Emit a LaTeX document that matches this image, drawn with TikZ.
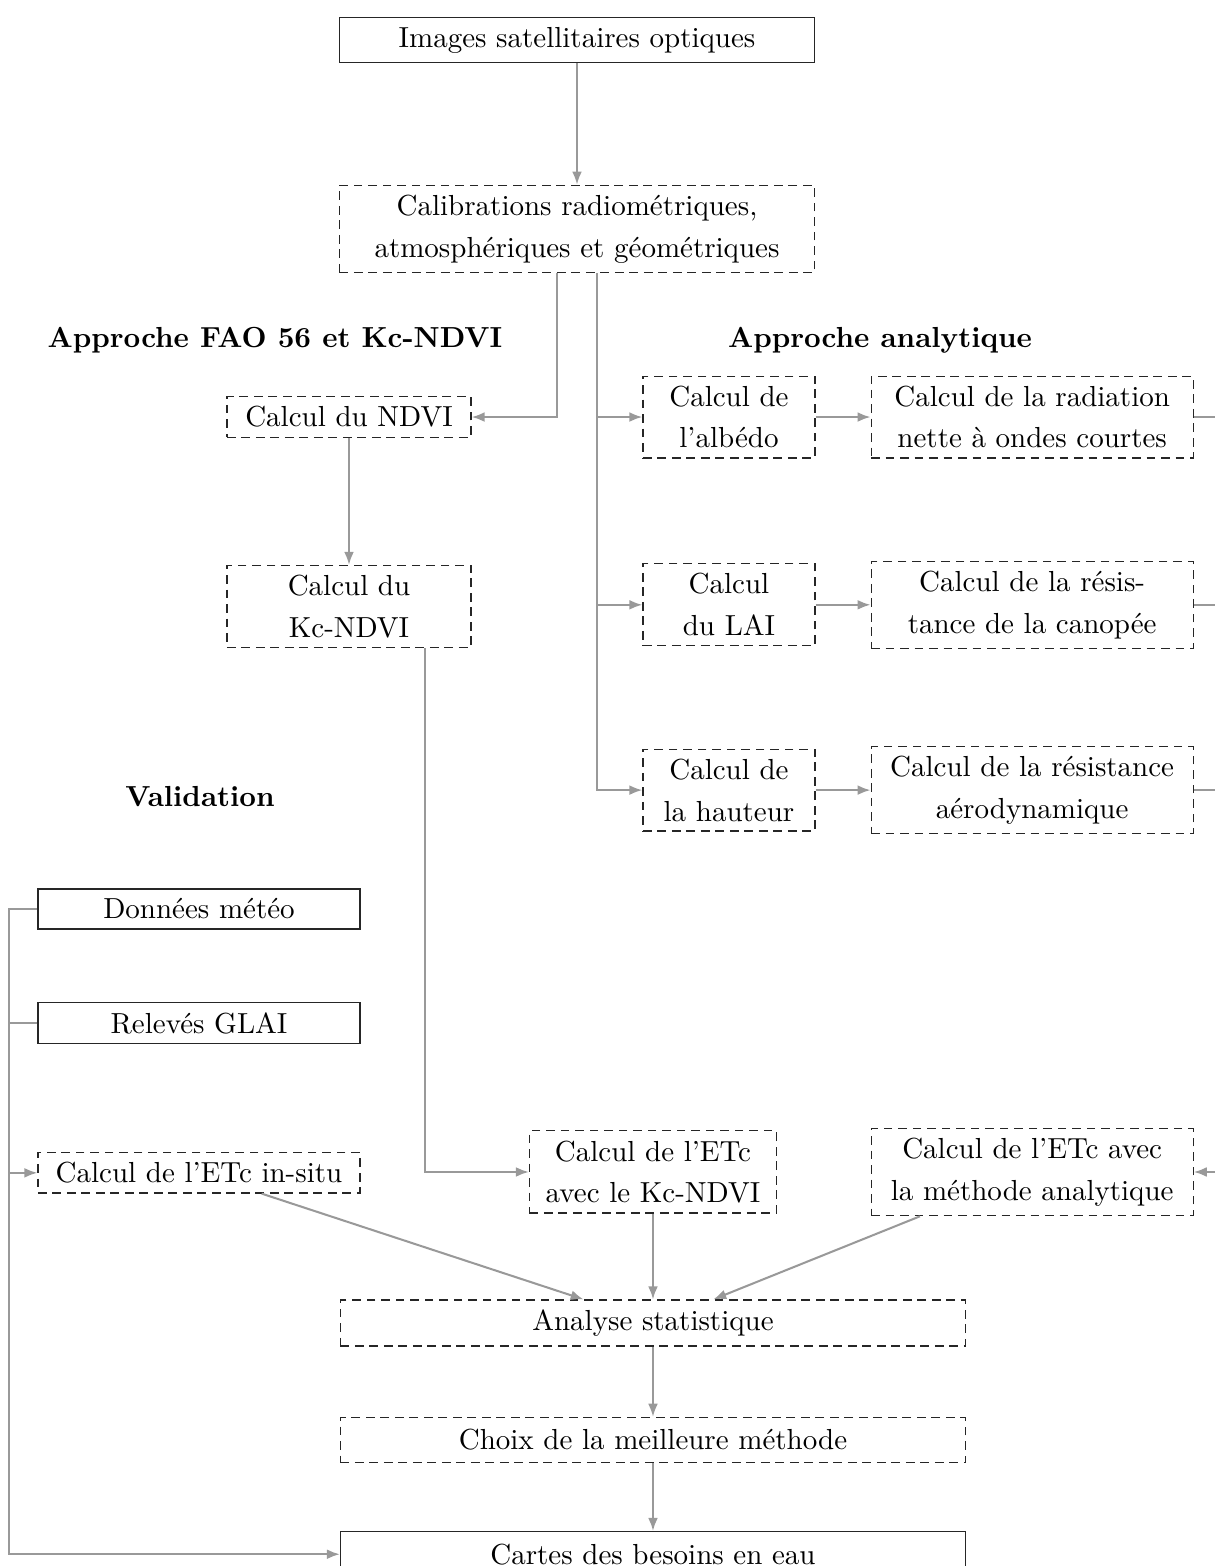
\documentclass[tikz,border=0pt]{standalone}
\usetikzlibrary{positioning,arrows.meta,calc}

\begin{document}
\begin{tikzpicture}[
  box/.style={draw=black!85, align=center, font=\linespread{1.2}\selectfont},
  dbox/.style={box, dash pattern=on 3pt off 2pt},
  small/.style={minimum width=2.085cm},
  large/.style={minimum width=3.903cm},
  wide/.style={minimum width=7.576cm, minimum height=0.55cm},
  link/.style={line width=0.7pt, black!40},
  arrow/.style={link, -{Latex[length=4.5pt, width=3.4pt]}},
  title/.style={font=\bfseries}
]
\useasboundingbox (0,0) rectangle (14.727,-18.982);
\clip (0,0) rectangle (14.727,-18.982);

\node[box, minimum width=5.758cm] (img) at (6.994,-0.485) {Images satellitaires optiques};
\node[dbox, minimum width=5.758cm, below=1.47cm of img] (calib) {Calibrations radiométriques,\\ atmosphériques et géométriques};

\node[dbox, small] (albedo) at (8.836,-5.055) {Calcul de\\ l'albédo};
\node[dbox, large, right=0.667cm of albedo] (radiation) {Calcul de la radiation\\ nette à ondes courtes};
\node[dbox, small, below=1.27cm of albedo] (lai) {Calcul\\ du LAI};
\node[dbox, large, right=0.667cm of lai] (canopee) {Calcul de la résis-\\ tance de la canopée};
\node[dbox, small, below=1.24cm of lai] (hauteur) {Calcul de\\ la hauteur};
\node[dbox, large, right=0.667cm of hauteur] (aero) {Calcul de la résistance\\ aérodynamique};

\node[dbox, minimum width=2.958cm, left=2.07cm of albedo] (ndvi) {Calcul du NDVI};
\node[dbox, minimum width=2.958cm, below=1.54cm of ndvi] (kcndvi) {Calcul du\\ Kc-NDVI};

\node[box, large] (meteo) at (2.412,-11.018) {Données météo};
\node[box, large, below=0.88cm of meteo] (glai) {Relevés GLAI};
\node[dbox, large, below=1.31cm of glai] (insitu) {Calcul de l'ETc in-situ};

\node[dbox, minimum width=2.994cm] (etckc) at (7.915,-14.206) {Calcul de l'ETc\\ avec le Kc-NDVI};
\node[dbox, large] (etcana) at (radiation |- etckc) {Calcul de l'ETc avec\\ la méthode analytique};

\node[dbox, wide, below=1.04cm of etckc] (analyse) {Analyse statistique};
\node[dbox, wide, below=0.85cm of analyse] (choix) {Choix de la meilleure méthode};
\node[box, wide, below=0.82cm of choix] (cartes) {Cartes des besoins en eau};

\node[title] (fao) at (3.333,-4.121) {Approche FAO 56 et Kc-NDVI};
\node[title] (analytique) at (10.667,-4.121) {Approche analytique};
\node[title] (validation) at (2.424,-9.661) {Validation};

\draw[arrow] (img) -- (calib);
\draw[arrow] ($(calib.south)+(-0.24,0)$) |- (ndvi.east);
\coordinate (split) at ($(calib.south)+(0.24,0)$);
\draw[arrow] (split) |- (albedo.west);
\draw[arrow] (split) |- (lai.west);
\draw[arrow] (split) |- (hauteur.west);
\draw[arrow] (albedo) -- (radiation);
\draw[arrow] (lai) -- (canopee);
\draw[arrow] (hauteur) -- (aero);

\coordinate (back) at ($(radiation.east)+(0.5,0)$);
\draw[arrow] (radiation.east) -- (back) |- (etcana.east);
\draw[link] (canopee.east) -- (canopee.east -| back);
\draw[link] (aero.east) -- (aero.east -| back);

\draw[arrow] (ndvi) -- (kcndvi);
\draw[arrow] ($(kcndvi.south)+(0.92,0)$) |- (etckc.west);

\coordinate (trunk) at ($(meteo.west)+(-0.34,0)$);
\draw[arrow] (meteo.west) -- (trunk) |- (cartes.west);
\draw[link] (glai.west) -- (glai.west -| trunk);
\draw[arrow] (insitu.west -| trunk) -- (insitu.west);

\draw[arrow] ($(insitu.south)+(0.76,0)$) -- ($(analyse.north)+(-0.84,0)$);
\draw[arrow] (etckc.south) -- (etckc.south |- analyse.north);
\draw[arrow] ($(etcana.south)+(-1.36,0)$) -- ($(analyse.north)+(0.73,0)$);
\draw[arrow] (analyse) -- (choix);
\draw[arrow] (choix) -- (cartes);
\end{tikzpicture}
\end{document}
